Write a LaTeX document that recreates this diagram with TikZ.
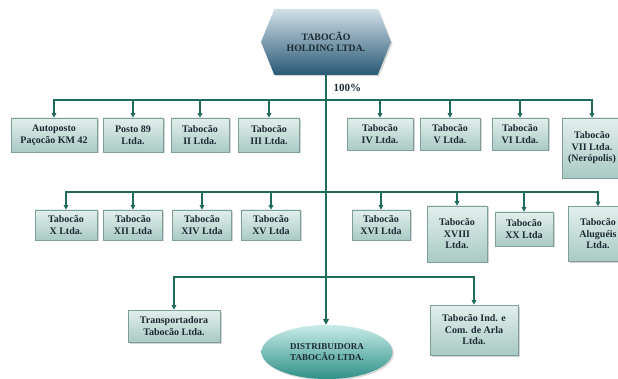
\documentclass[tikz,border=0pt]{standalone}
\usepackage{fontspec}
\setmainfont{Liberation Serif}
\usetikzlibrary{shapes.geometric,shapes.symbols,shadows,arrows.meta}
\definecolor{linec}{HTML}{1E6B5C}
\definecolor{boxtop}{HTML}{E2EFEC}
\definecolor{boxbot}{HTML}{A9CAC4}
\definecolor{boxdraw}{HTML}{7E9E99}
\definecolor{txt}{HTML}{1C2B33}
\definecolor{hextop}{HTML}{D2E0E8}
\definecolor{hexbot}{HTML}{285874}
\definecolor{elltop}{HTML}{C8ECE8}
\definecolor{ellbot}{HTML}{2F9088}
\tikzset{
  company/.style={draw=boxdraw, line width=0.6pt, top color=boxtop, bottom color=boxbot,
    align=center, font=\bfseries\fontsize{10}{11.5}\selectfont, text=txt, inner sep=1pt,
    drop shadow={opacity=.35, shadow xshift=1.5pt, shadow yshift=-1.5pt}},
  link/.style={draw=linec, line width=1.6pt, -{Triangle[length=4.5pt,width=4.5pt]}},
}
\begin{document}
\begin{tikzpicture}[x=1pt,y=-1pt]
\useasboundingbox (0,0) rectangle (618,379);
% top hexagon
\node[signal, signal to=west and east, signal pointer angle=136, minimum width=130pt, minimum height=66pt,
  draw=none, top color=hextop, bottom color=hexbot,
  align=center, font=\bfseries\fontsize{9.8}{11.5}\selectfont, text=txt, inner sep=0pt,
  drop shadow={opacity=.3, shadow xshift=1.5pt, shadow yshift=-1.5pt}] (hold) at (326,42) {TABOCÃO\\HOLDING LTDA.};
\node[font=\bfseries\fontsize{11}{12}\selectfont, text=txt, anchor=west] (pct) at (330,88) {100\%};
% distribuidora
\node[ellipse, minimum width=131pt, minimum height=54pt, draw=none,
  top color=elltop, bottom color=ellbot,
  align=center, font=\bfseries\fontsize{9}{11}\selectfont, text=txt, inner sep=0pt,
  drop shadow={opacity=.3, shadow xshift=1.5pt, shadow yshift=-1.5pt}] (dist) at (327,352) {DISTRIBUIDORA\\TABOCÃO LTDA.};
% row 1
\node[company, minimum width=86pt, minimum height=34pt] (a1) at (54,135) {Autoposto\\Paçocão KM 42};
\node[company, minimum width=60pt, minimum height=34pt] (a2) at (133,135) {Posto 89\\Ltda.};
\node[company, minimum width=58pt, minimum height=34pt] (a3) at (200,135) {Tabocão\\II Ltda.};
\node[company, minimum width=61pt, minimum height=34pt] (a4) at (269,135) {Tabocão\\III Ltda.};
\node[company, minimum width=66pt, minimum height=32pt] (a5) at (380,134) {Tabocão\\IV Ltda.};
\node[company, minimum width=60pt, minimum height=32pt] (a6) at (450,134) {Tabocão\\V Ltda.};
\node[company, minimum width=56pt, minimum height=32pt] (a7) at (520,134) {Tabocão\\VI Ltda.};
\node[company, minimum width=60pt, minimum height=60pt] (a8) at (592,148) {Tabocão\\VII Ltda.\\(Nerópolis)};
% row 2
\node[company, minimum width=62pt, minimum height=30pt] (b1) at (66,225) {Tabocão\\X Ltda.};
\node[company, minimum width=59pt, minimum height=30pt] (b2) at (133,225) {Tabocão\\XII Ltda};
\node[company, minimum width=59pt, minimum height=30pt] (b3) at (202,225) {Tabocão\\XIV Ltda};
\node[company, minimum width=59pt, minimum height=30pt] (b4) at (271,225) {Tabocão\\XV Ltda};
\node[company, minimum width=58pt, minimum height=30pt] (b5) at (381,225) {Tabocão\\XVI Ltda};
\node[company, minimum width=60pt, minimum height=56pt] (b6) at (457,234) {Tabocão\\XVIII\\Ltda.};
\node[company, minimum width=58pt, minimum height=34pt] (b7) at (524,229) {Tabocão\\XX Ltda};
\node[company, minimum width=60pt, minimum height=55pt] (b8) at (598,234) {Tabocão\\Aluguéis\\Ltda.};
% row 3
\node[company, minimum width=92pt, minimum height=32pt] (c1) at (174,326) {Transportadora\\Tabocão Ltda.};
\node[company, minimum width=88pt, minimum height=50pt] (c2) at (474,330) {Tabocão Ind. e\\Com. de Arla\\Ltda.};
% buses
\coordinate (t1) at (hold.south |- 0,100);
\coordinate (t2) at (hold.south |- 0,192);
\coordinate (t3) at (hold.south |- 0,277);
\foreach \n in {a1,a2,a3,a4,a5,a6,a7,a8} \draw[link] (t1) -| (\n.north);
\foreach \n in {b1,b2,b3,b4,b5,b6,b7,b8} \draw[link] (t2) -| (\n.north);
\foreach \n in {c1,c2} \draw[link] (t3) -| (\n.north);
\draw[draw=linec, line width=2.4pt, -{Triangle[length=6pt,width=6pt]}] (hold.south) -- (hold.south |- dist.north);
\end{tikzpicture}
\end{document}
